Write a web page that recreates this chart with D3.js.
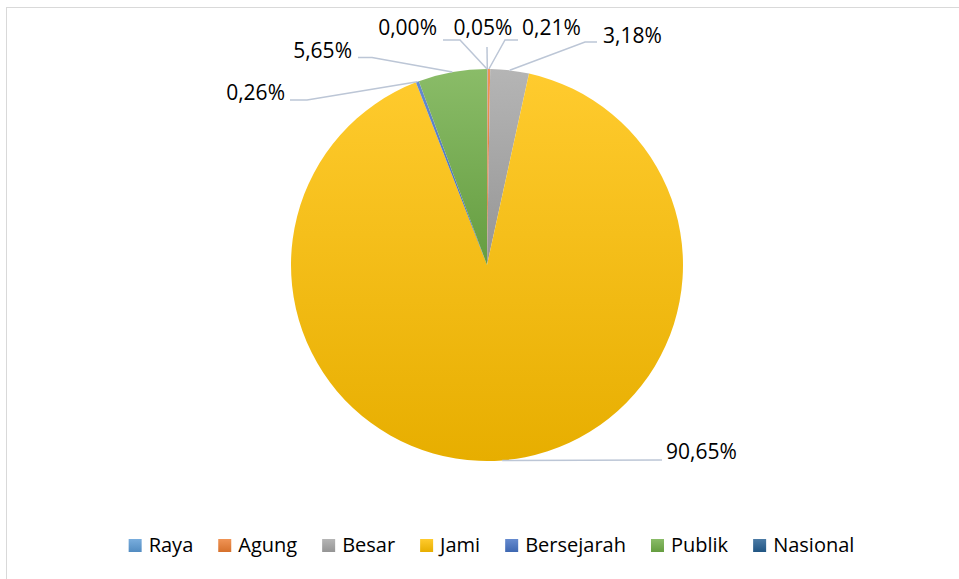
<!DOCTYPE html>
<html>
<head>
<meta charset="utf-8">
<script src="https://cdn.jsdelivr.net/npm/d3@7"></script>
<style>
  body { margin: 0; background: #fff; }
  svg text { font-family: "Open Sans", sans-serif; fill: #000; }
</style>
</head>
<body>
<div id="chart"></div>
<script>
// data
const categories = ["Raya", "Agung", "Besar", "Jami", "Bersejarah", "Publik", "Nasional"];
const shares = [0.05, 0.21, 3.18, 90.65, 0.26, 5.65, 0.00];
const labels = ["0,05%", "0,21%", "3,18%", "90,65%", "0,26%", "5,65%", "0,00%"];
const colors = ["#5B9BD5", "#ED7D31", "#A5A5A5", "#FFC000", "#4472C4", "#70AD47", "#255E91"];

// label placement relative to pie centre: text position, elbow, end of leader
// side: "mid" = vertical leader, "start" = text to right, "end" = text to left
const labelLayout = [
    { side: "mid",   tx: -4,  ty: -230, elbow: [0, -218],      end: null },
    { side: "start", tx: 35,  ty: -230, elbow: [18, -225],     end: [31, -225] },
    { side: "start", tx: 116, ty: -222, elbow: [98, -223],     end: [110, -223] },
    { side: "start", tx: 179, ty: 194,  elbow: null,           end: [175, 195] },
    { side: "end",   tx: -202, ty: -165, elbow: [-180, -165],  end: [-197, -165] },
    { side: "end",   tx: -135, ty: -207, elbow: [-115, -207.5], end: [-129, -207.5] },
    { side: "end",   tx: -50, ty: -230, elbow: [-27, -225],    end: [-44, -225] }
];

let width = 959, height = 579;
let cx = 487, cy = 265, radius = 196;

let svg = d3.select("#chart")
    .append("svg")
    .attr("width", width)
    .attr("height", height);

// frame
svg.append("rect")
    .attr("x", 6.5)
    .attr("y", 7.5)
    .attr("width", width)
    .attr("height", height)
    .attr("fill", "none")
    .attr("stroke", "#D9D9D9");

let defs = svg.append("defs");
colors.forEach((c, i) => {
    let g = defs.append("linearGradient")
        .attr("id", "grad" + i)
        .attr("x1", 0).attr("y1", 0)
        .attr("x2", 0).attr("y2", 1);
    g.append("stop").attr("offset", "0%").attr("stop-color", d3.interpolateRgb(c, "#fff")(0.18));
    g.append("stop").attr("offset", "100%").attr("stop-color", d3.color(c).darker(0.28));
});

let data = categories.map((c, i) => ({ name: c, value: shares[i], label: labels[i], idx: i }));

let pie = d3.pie()
    .value(d => d.value)
    .sort(null);

let pie_data = pie(data);

let arc = d3.arc()
    .innerRadius(0)
    .outerRadius(radius);

let g = svg.append("g")
    .attr("transform", `translate(${cx}, ${cy})`);

g.selectAll("path.slice")
    .data(pie_data.filter(d => d.value > 0))
    .enter()
    .append("path")
    .attr("class", "slice")
    .attr("d", arc)
    .attr("fill", d => `url(#grad${d.data.idx})`);

// leader lines
let edgePoint = d => {
    let a = (d.startAngle + d.endAngle) / 2;
    return [radius * Math.sin(a), -radius * Math.cos(a)];
};

g.selectAll("polyline.leader")
    .data(pie_data)
    .enter()
    .append("polyline")
    .attr("class", "leader")
    .attr("points", d => {
        let L = labelLayout[d.data.idx];
        let p = [edgePoint(d)];
        if (L.elbow) p.push(L.elbow);
        if (L.end) p.push(L.end);
        return p.map(q => q.join(",")).join(" ");
    })
    .attr("fill", "none")
    .attr("stroke", "#BCC6D6")
    .attr("stroke-width", 1.5);

g.selectAll("text.lbl")
    .data(pie_data)
    .enter()
    .append("text")
    .attr("class", "lbl")
    .attr("x", d => labelLayout[d.data.idx].tx)
    .attr("y", d => labelLayout[d.data.idx].ty)
    .attr("text-anchor", d => {
        let s = labelLayout[d.data.idx].side;
        return s === "mid" ? "middle" : s;
    })
    .style("font-size", "21px")
    .text(d => d.data.label);

// legend
let legend = svg.append("g");
let items = legend.selectAll("g.item")
    .data(categories)
    .enter()
    .append("g")
    .attr("class", "item");

items.append("rect")
    .attr("width", 13)
    .attr("height", 13)
    .attr("y", 539)
    .attr("fill", (d, i) => `url(#grad${i})`);

items.append("text")
    .attr("x", 20)
    .attr("y", 552)
    .style("font-size", "20px")
    .text(d => d);

let offsets = [], xpos = 0;
items.each(function () {
    offsets.push(xpos);
    let w = d3.select(this).select("text").node().getComputedTextLength();
    xpos += 20 + w + 25;
});
let total = xpos - 25;
let startX = 491.5 - total / 2;
items.attr("transform", (d, i) => `translate(${startX + offsets[i]}, 0)`);
</script>
</body>
</html>
